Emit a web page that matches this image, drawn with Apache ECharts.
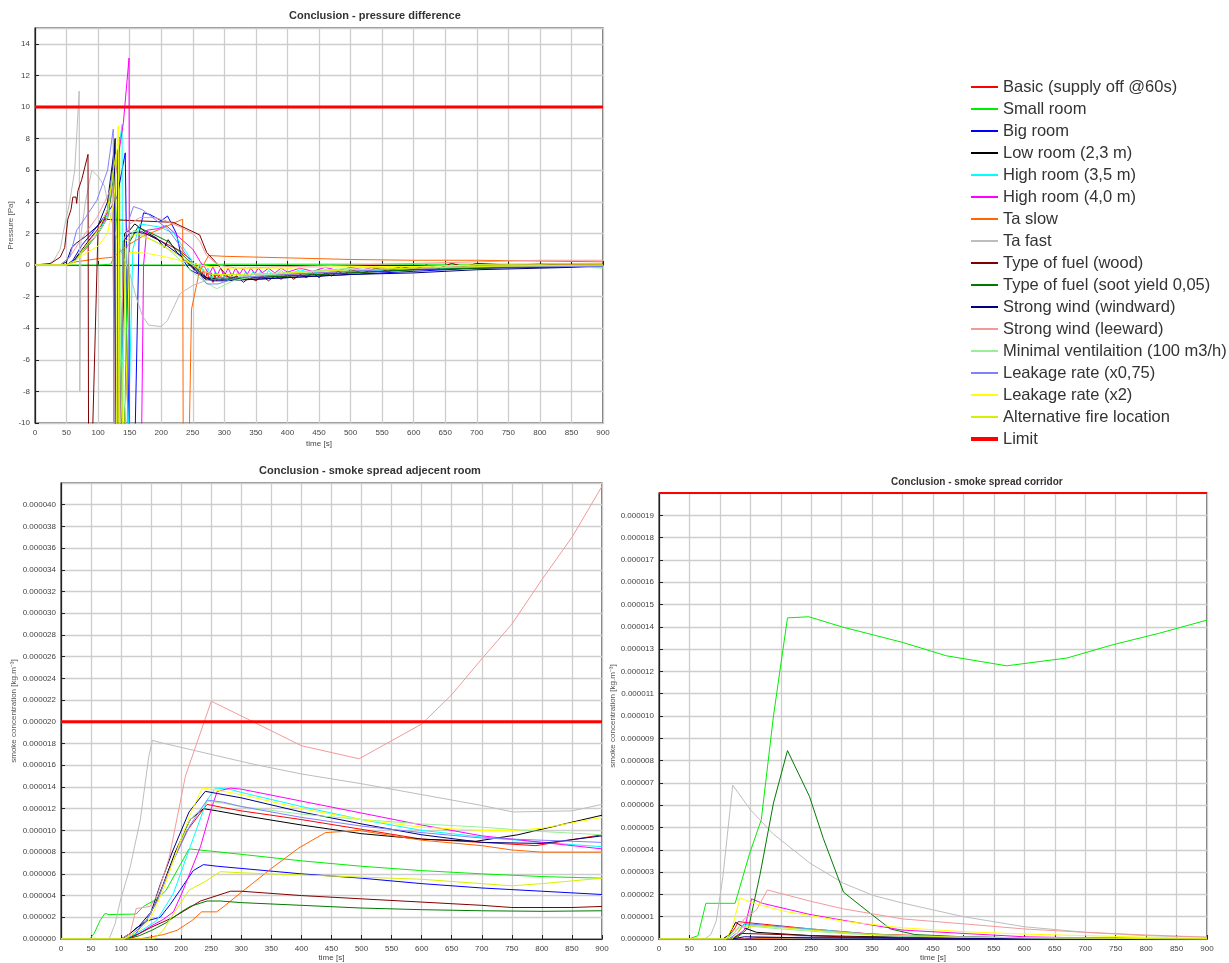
<!DOCTYPE html>
<html>
  <head>
    <meta charset="UTF-8" />
    <title>Conclusion</title>
    <script src="https://cdn.jsdelivr.net/npm/echarts@6/dist/echarts.min.js"></script>
    <style>
      html, body { margin: 0; padding: 0; background: #fff; }
    </style>
  </head>
  <body>
    <div id="chart" style="width: 1229px; height: 963px"></div>
    <script>
      // ---------- pressure difference [Pa], [time s, value] ----------
      var pBasic = [[0,0],[50,0],[60,0.2],[80,1],[100,2],[115,3],[125,5.5],[131,7],[132,-14],[140,-14],[150,1.5],[160,2.1],[180,1.9],[200,1.5],[230,0.9],[248,0.3],[252,-0.3],[255,0.1],[258,-0.5],[261,-0.1],[264,-0.7],[267,-0.3],[270,-0.9],[273,-0.4],[276,-1],[279,-0.5],[282,-1.1],[285,-0.6],[288,-1],[292,-0.6],[296,-1],[300,-0.7],[320,-0.8],[350,-0.75],[400,-0.6],[450,-0.5],[500,-0.4],[550,-0.3],[600,-0.25],[700,-0.1],[800,-0.05],[900,0]];
      var pSmall = [[0,0],[100,0],[120,0.05],[125,0.5],[131,4],[134,8.1],[135,-14],[141,-14],[146,0],[200,0],[250,0],[300,0.05],[400,0.05],[500,0.05],[600,0.05],[700,0.05],[800,0.05],[900,-0.1]];
      var pBig = [[0,0],[50,0],[60,0.3],[75,1.3],[90,2],[105,2.8],[120,3.6],[130,4.3],[143,7.1],[150,-14],[157,-14],[165,2],[172,3.3],[182,3.2],[200,2.8],[210,3.1],[224,2],[232,0.5],[245,-0.3],[270,-0.8],[300,-0.9],[350,-0.9],[400,-0.8],[500,-0.6],[600,-0.4],[700,-0.2],[800,-0.15],[900,-0.1]];
      var pLow = [[0,0],[50,0],[60,0.2],[75,1],[90,1.8],[105,2.5],[115,3.5],[122,5.5],[127,8],[128,-14],[136,-14],[142,2],[150,2.2],[158,2.6],[175,2.1],[193,1.7],[205,1.1],[211,1.6],[225,0.8],[240,0.2],[255,-0.4],[270,-0.9],[300,-0.8],[350,-0.8],[400,-0.7],[500,-0.5],[600,-0.3],[700,-0.2],[800,-0.1],[900,0]];
      var pHigh35 = [[0,0],[50,0],[62,0.2],[80,1.1],[100,2],[115,3.2],[128,6],[138,8.9],[139,-14],[146,-14],[155,1],[166,2.6],[198,2.4],[220,2],[240,0.8],[256,-0.2],[262,0.1],[268,-0.6],[274,-0.2],[280,-0.9],[286,-0.4],[292,-1],[298,-0.5],[304,-1],[310,-0.5],[316,-0.9],[322,-0.4],[328,-0.9],[334,-0.4],[340,-0.8],[346,-0.4],[352,-0.8],[358,-0.35],[364,-0.75],[370,-0.35],[380,-0.7],[390,-0.35],[400,-0.65],[420,-0.3],[440,-0.55],[460,-0.3],[480,-0.5],[500,-0.3],[550,-0.35],[600,-0.25],[700,-0.15],[800,-0.1],[900,-0.1]];
      var pHigh40 = [[0,0],[50,0],[65,0.3],[80,1.2],[95,2],[110,2.8],[125,5],[140,9],[149,13.1],[150,-14],[168,-14],[172,0],[177,2.2],[195,2.3],[208,2.5],[230,1.7],[250,1],[262,0.2],[270,-0.2],[276,-0.6],[282,-0.1],[288,-0.7],[294,-0.2],[300,-0.7],[306,-0.2],[312,-0.7],[318,-0.2],[324,-0.6],[330,-0.2],[336,-0.6],[342,-0.2],[348,-0.55],[354,-0.2],[360,-0.5],[370,-0.2],[380,-0.5],[390,-0.2],[400,-0.45],[420,-0.2],[440,-0.4],[460,-0.15],[480,-0.35],[500,-0.15],[520,-0.3],[540,-0.1],[560,-0.3],[580,-0.1],[600,-0.25],[650,-0.15],[700,-0.1],[800,-0.05],[900,0]];
      var pTaSlow = [[0,0],[50,0],[65,0.2],[100,0.4],[125,0.5],[145,1.2],[170,1.8],[200,2.3],[234,2.9],[235,-14],[243,-14],[248,-2.8],[260,-0.5],[275,0.6],[300,0.55],[400,0.45],[500,0.35],[600,0.3],[700,0.3],[800,0.25],[900,0.2]];
      var pTaFast = [[0,0],[20,0],[30,0.3],[40,1],[47,2.5],[55,4],[63,6],[70,11],[71,-8],[73,2],[80,4],[90,6],[100,5.6],[110,5],[120,3],[135,1],[150,-0.5],[160,-2],[170,-3.2],[180,-3.8],[200,-3.9],[210,-3.5],[230,-1.8],[250,-1.3],[270,-1],[300,-0.8],[350,-0.6],[400,-0.5],[500,-0.3],[600,-0.2],[700,-0.1],[900,0]];
      var pWood = [[0,0],[25,0.1],[40,0.5],[47,1.1],[52,2.9],[57,3.5],[60,4.3],[65,4.3],[66,3.9],[68,4.7],[74,5.4],[84,7],[85,-14],[89,-14],[100,2.5],[108,2.9],[160,2.8],[219,2.7],[261,1.9],[272,0.8],[288,0.1],[300,-0.5],[310,-0.9],[320,-0.7],[330,-1.1],[340,-0.8],[350,-1],[360,-0.7],[370,-1],[380,-0.7],[390,-0.9],[400,-0.6],[410,-0.9],[420,-0.6],[430,-0.8],[440,-0.5],[450,-0.8],[460,-0.5],[470,-0.7],[480,-0.4],[490,-0.6],[500,-0.3],[520,-0.5],[540,-0.2],[560,-0.4],[580,-0.1],[600,-0.3],[620,0],[640,-0.2],[660,0.1],[680,-0.1],[700,0.1],[750,0],[800,0.05],[900,0.05]];
      var pSoot = [[0,0],[50,0],[60,0.2],[80,1.1],[100,2],[115,3],[126,6],[131,7.3],[132,-14],[140,-14],[150,1.5],[163,2.4],[190,1.9],[210,1.5],[212,1.6],[230,0.8],[255,-0.2],[275,-0.9],[300,-0.9],[400,-0.7],[500,-0.5],[600,-0.3],[700,-0.2],[800,-0.1],[900,0]];
      var pWindward = [[0,0],[40,0],[50,0.2],[58,1.1],[66,1.4],[80,1.8],[100,2.5],[115,4],[126,7.5],[127,-14],[134,-14],[140,1.5],[150,2],[170,2.1],[200,1.5],[230,0.6],[260,-0.5],[280,-1],[300,-1],[350,-0.9],[400,-0.8],[500,-0.6],[600,-0.5],[700,-0.3],[800,-0.2],[900,-0.1]];
      var pLeeward = [[0,0],[40,0],[55,0.5],[71,1.5],[85,2.3],[98,3],[113,4.2],[122,5],[128,-14],[134,-14],[140,1.5],[150,2.6],[166,3],[190,3],[208,2.8],[230,2.4],[250,2],[261,1.5],[272,0.6],[290,0],[320,-0.2],[400,-0.1],[500,0],[600,0.1],[700,0.2],[800,0.3],[900,0.3]];
      var pMinVent = [[0,0],[50,0],[65,0.3],[85,1.3],[100,2],[115,3],[124,6],[125,-14],[133,-14],[145,1],[156,2.2],[180,1.7],[208,1.1],[225,0.5],[245,-0.3],[270,-1.1],[288,-1.5],[314,-1],[350,-0.7],[400,-0.5],[500,-0.2],[600,-0.1],[700,0],[800,0],[900,-0.2]];
      var pLeak075 = [[0,0],[40,0],[55,0.5],[66,2.2],[80,3],[98,4.1],[115,6],[124,8.6],[125,-14],[145,-14],[150,3],[156,3.7],[170,3.5],[193,2.8],[210,2.3],[230,1.2],[250,0],[272,-1.2],[290,-1.2],[320,-0.8],[400,-0.6],[500,-0.4],[600,-0.2],[700,-0.1],[800,-0.1],[900,-0.1]];
      var pLeak2 = [[0,0],[50,0],[60,0.1],[70,0.5],[100,1.2],[115,2],[125,4],[132,8.8],[133,-14],[140,-14],[150,0.8],[177,0.75],[208,0.5],[240,0.2],[260,0],[300,-0.2],[400,-0.2],[500,-0.1],[600,-0.1],[700,0],[900,0]];
      var pAltFire = [[0,0],[50,0],[65,0.3],[80,1.2],[100,2.2],[115,3.5],[128,7],[129,-14],[137,-14],[143,1.5],[160,2],[190,1.5],[220,0.8],[250,0],[280,-0.6],[320,-0.6],[400,-0.5],[500,-0.3],[600,-0.2],[700,-0.1],[900,0]];
      var pLimit = [[0,10],[900,10]];

      // ---------- smoke concentration adjacent room [1e-6 kg/m3] ----------
      var aBasic = [[0,0],[105,0],[120,0.5],[140,1.5],[160,3.5],[180,6.5],[210,10],[243,12.4],[270,12.1],[300,11.8],[400,11],[500,10.1],[600,9.2],[700,8.9],[790,8.6],[900,9.6]];
      var aSmall = [[0,0],[48,0],[55,0.5],[65,1.7],[73,2.35],[80,2.25],[125,2.3],[137,3],[160,3.7],[175,4.5],[195,6.5],[213,8.3],[300,7.8],[400,7.2],[500,6.7],[600,6.3],[700,6],[800,5.75],[900,5.6]];
      var aBig = [[0,0],[110,0],[125,0.5],[137,1.5],[145,1.7],[165,2],[182,3.2],[198,4.5],[220,6.3],[237,6.85],[260,6.7],[300,6.5],[400,6],[500,5.6],[600,5.1],[700,4.7],[800,4.4],[900,4.1]];
      var aLow = [[0,0],[100,0],[115,0.5],[125,1],[140,1.5],[155,3],[170,5],[190,8],[215,11],[237,12],[260,11.8],[300,11.4],[400,10.5],[500,9.7],[600,9.2],[690,9],[760,9.6],[830,10.5],[900,11.4]];
      var aHigh35 = [[0,0],[110,0],[125,0.5],[140,1],[159,1.7],[187,4.2],[215,8.5],[243,12.8],[257,13.9],[280,13.8],[300,13.5],[400,12.2],[500,11],[600,10],[700,9.4],[800,8.9],[900,8.5]];
      var aHigh40 = [[0,0],[115,0],[130,0.5],[150,1.2],[170,1.8],[187,2.5],[201,4.2],[232,8.5],[250,12],[260,13.6],[282,13.9],[300,13.8],[400,12.7],[500,11.6],[600,10.5],[700,9.5],[800,8.9],[900,8.3]];
      var aTaSlow = [[0,0],[130,0],[150,0.2],[170,0.4],[193,0.8],[218,1.7],[234,2.5],[259,2.5],[271,3],[300,4.3],[350,6.5],[396,8.4],[440,9.8],[496,10],[600,9.1],[700,8.6],[750,8.2],[800,8],[900,8]];
      var aTaFast = [[0,0],[80,0],[90,1.4],[99,3.6],[115,6.6],[132,11],[146,16.8],[152,18.3],[165,18.1],[250,17],[320,16.1],[400,15.2],[500,14.3],[600,13.3],[700,12.3],[752,11.7],[850,11.8],[900,12.4]];
      var aWood = [[0,0],[110,0],[130,0.5],[151,1.1],[187,2],[232,3.5],[282,4.4],[300,4.4],[400,4],[500,3.7],[600,3.4],[700,3.1],[750,2.9],[850,2.9],[900,3]];
      var aSoot = [[0,0],[110,0],[130,0.3],[151,0.8],[175,1.5],[200,2.5],[215,3],[243,3.5],[265,3.5],[300,3.35],[400,3.1],[500,2.85],[600,2.7],[700,2.6],[800,2.55],[900,2.6]];
      var aWindward = [[0,0],[100,0],[115,0.5],[130,1.2],[150,2.5],[165,5],[185,8],[213,11.7],[240,13.6],[260,13.4],[300,13],[400,11.7],[500,10.6],[600,9.6],[700,8.9],[800,8.8],[900,9.5]];
      var aLeeward = [[0,0],[100,0],[115,0.5],[125,2.8],[148,3],[160,4],[180,7.5],[207,15],[250,21.9],[320,20],[400,17.8],[496,16.6],[600,19.8],[650,22.5],[700,25.8],[750,29],[800,33.1],[850,37],[900,41.7]];
      var aMinVent = [[0,0],[105,0],[120,0.5],[140,1.5],[160,3.5],[185,7],[215,11],[245,12.7],[270,12.5],[300,12.2],[400,11.5],[500,11],[600,10.6],[700,10.3],[800,9.9],[900,9.6]];
      var aLeak075 = [[0,0],[105,0],[120,0.5],[140,1.5],[160,3.5],[185,7],[215,10.5],[243,12.8],[270,12.6],[300,12.2],[400,11.2],[500,10.4],[600,9.8],[700,9.3],[800,9.1],[900,8.9]];
      var aLeak2 = [[0,0],[105,0],[120,0.5],[135,1],[150,2],[170,4.5],[195,8.5],[215,11.5],[235,13.9],[250,13.8],[300,13.3],[400,12],[500,11],[600,10.3],[700,10],[750,10],[800,10.2],[900,11.2]];
      var aAltFire = [[0,0],[155,0],[170,0.8],[187,2.3],[213,4.5],[240,5.3],[265,6.2],[300,6.1],[400,5.9],[500,5.7],[600,5.5],[700,5.1],[750,4.9],[800,5.1],[900,5.6]];
      var aLimit = [[0,20],[900,20]];

      // ---------- smoke concentration corridor [1e-6 kg/m3] ----------
      var cBasic = [[0,0],[110,0],[125,0.5],[130,0.78],[150,0.72],[250,0.45],[350,0.22],[430,0.15],[500,0.08],[600,0.05],[700,0.02],[900,0]];
      var cSmall = [[0,0],[49,0],[64,0.15],[77,1.6],[125,1.6],[149,3.85],[168,5.35],[188,10],[211,14.4],[246,14.45],[300,14],[400,13.3],[472,12.7],[571,12.25],[670,12.6],[746,13.2],[820,13.7],[900,14.3]];
      var cBig = [[0,0],[140,0],[160,0.05],[250,0.08],[400,0.05],[900,0]];
      var cLow = [[0,0],[105,0],[115,0.2],[126,0.75],[140,0.5],[160,0.3],[250,0.15],[400,0.08],[900,0]];
      var cHigh35 = [[0,0],[115,0],[130,0.3],[140,0.65],[160,0.6],[250,0.45],[350,0.2],[450,0.1],[600,0.05],[900,0]];
      var cHigh40 = [[0,0],[120,0],[140,0.4],[152,1.8],[170,1.6],[248,1.1],[300,0.85],[400,0.4],[500,0.25],[600,0.1],[700,0.05],[900,0]];
      var cTaSlow = [[0,0],[150,0],[200,0.05],[300,0.08],[400,0.06],[900,0.02]];
      var cTaFast = [[0,0],[75,0],[85,0.2],[94,0.8],[105,2.8],[121,6.9],[150,5.8],[188,4.7],[248,3.4],[303,2.5],[352,1.95],[402,1.6],[500,1],[600,0.55],[700,0.3],[800,0.15],[900,0.08]];
      var cWood = [[0,0],[120,0],[135,0.25],[200,0.2],[300,0.1],[400,0.05],[900,0]];
      var cSoot = [[0,0],[110,0],[130,0.1],[147,0.5],[166,2.9],[188,6.1],[211,8.45],[247,6.4],[270,4.5],[303,2.1],[340,1.3],[380,0.45],[420,0.2],[500,0.1],[600,0.05],[900,0]];
      var cWindward = [[0,0],[120,0],[140,0.1],[250,0.05],[900,0]];
      var cLeeward = [[0,0],[110,0],[125,0.3],[140,0.9],[160,1.3],[178,2.2],[248,1.7],[303,1.35],[400,0.9],[500,0.68],[600,0.45],[700,0.3],[800,0.18],[900,0.08]];
      var cMinVent = [[0,0],[110,0],[125,0.4],[140,0.6],[200,0.45],[300,0.25],[400,0.12],[600,0.05],[900,0]];
      var cLeak075 = [[0,0],[115,0],[130,0.3],[140,0.7],[200,0.55],[300,0.3],[400,0.15],[600,0.05],[900,0]];
      var cLeak2 = [[0,0],[110,0],[120,0.5],[133,1.85],[150,1.65],[204,1.25],[303,0.8],[400,0.5],[500,0.33],[600,0.22],[700,0.15],[800,0.08],[900,0.03]];
      var cAltFire = [[0,0],[120,0],[135,0.5],[160,0.6],[250,0.4],[350,0.2],[500,0.08],[900,0]];
      var cLimit = [[0,20],[900,20]];

      // scenario name, colour, pressure, adjacent room, corridor
      var scenarios = [
        ["Basic (supply off @60s)", "#ff0000", pBasic, aBasic, cBasic],
        ["Small room", "#00ee00", pSmall, aSmall, cSmall],
        ["Big room", "#0000ff", pBig, aBig, cBig],
        ["Low room (2,3 m)", "#000000", pLow, aLow, cLow],
        ["High room (3,5 m)", "#00ffff", pHigh35, aHigh35, cHigh35],
        ["High room (4,0 m)", "#ff00ff", pHigh40, aHigh40, cHigh40],
        ["Ta slow", "#ff6600", pTaSlow, aTaSlow, cTaSlow],
        ["Ta fast", "#bdbdbd", pTaFast, aTaFast, cTaFast],
        ["Type of fuel (wood)", "#800000", pWood, aWood, cWood],
        ["Type of fuel (soot yield 0,05)", "#007a00", pSoot, aSoot, cSoot],
        ["Strong wind (windward)", "#000080", pWindward, aWindward, cWindward],
        ["Strong wind (leeward)", "#f29a9a", pLeeward, aLeeward, cLeeward],
        ["Minimal ventilaition (100 m3/h)", "#99ee99", pMinVent, aMinVent, cMinVent],
        ["Leakage rate (x0,75)", "#8080ff", pLeak075, aLeak075, cLeak075],
        ["Leakage rate (x2)", "#ffff00", pLeak2, aLeak2, cLeak2],
        ["Alternative fire location", "#d6f000", pAltFire, aAltFire, cAltFire],
      ];

      var font = "Liberation Sans, Arial, sans-serif";
      var grids = [
        { left: 35, right: 626, top: 28, bottom: 540 },
        { left: 61, right: 627, top: 483, bottom: 24 },
        { left: 659, right: 22, top: 493, bottom: 22 },
      ];
      grids.forEach(function (g) {
        g.show = true;
        g.borderColor = "#222";
        g.borderWidth = 1.2;
        g.backgroundColor = "#fff";
      });

      function xAx(i) {
        return {
          type: "value",
          gridIndex: i,
          min: 0,
          max: 900,
          interval: 50,
          name: "time [s]",
          nameLocation: "middle",
          nameGap: i == 0 ? 17 : 15,
          nameTextStyle: { fontSize: 8, color: "#444", fontFamily: font },
          axisLine: { show: true, lineStyle: { color: "#222", width: 1.2 } },
          axisTick: { show: true, inside: true, length: 4, lineStyle: { color: "#222" } },
          axisLabel: { fontSize: 8, color: "#444", margin: 6, fontFamily: font },
          splitLine: { show: true, lineStyle: { color: "#cdcdcd", width: 1.3 } },
        };
      }
      function concLabel(v) {
        return (v / 1e6).toFixed(6);
      }
      function yAx(i, min, max, step, name, gap, fmt) {
        return {
          type: "value",
          gridIndex: i,
          min: min,
          max: max,
          interval: step,
          name: name,
          nameLocation: "middle",
          nameGap: gap,
          nameTextStyle: { fontSize: 8, color: "#555", fontFamily: font },
          axisLine: { show: true, lineStyle: { color: "#222", width: 1.2 } },
          axisTick: { show: true, inside: true, length: 4, lineStyle: { color: "#222" } },
          axisLabel: { fontSize: 8, color: "#444", margin: 5, showMaxLabel: false, formatter: fmt, fontFamily: font },
          splitLine: { show: true, lineStyle: { color: "#cdcdcd", width: 1.3 } },
        };
      }

      var series = [];
      function line(name, color, data, i, width) {
        series.push({
          type: "line",
          name: name,
          xAxisIndex: i,
          yAxisIndex: i,
          data: data,
          symbol: "none",
          showSymbol: false,
          clip: true,
          animation: false,
          color: color,
          lineStyle: { width: width, color: color },
        });
      }
      for (var k = 0; k < scenarios.length; k++) {
        var s = scenarios[k];
        line(s[0], s[1], s[2], 0, 1);
        line(s[0], s[1], s[3], 1, 1);
        line(s[0], s[1], s[4], 2, 1);
      }
      line("Limit", "#ff0000", pLimit, 0, 3);
      line("Limit", "#ff0000", aLimit, 1, 3);
      line("Limit", "#ff0000", cLimit, 2, 2);

      var legendNames = scenarios.map(function (s) { return s[0]; });
      legendNames.push({ name: "Limit", lineStyle: { width: 4 } });

      var option = {
        backgroundColor: "#ffffff",
        animation: false,
        title: [
          { text: "Conclusion - pressure difference", left: 289, top: 10, padding: 0,
            textStyle: { fontSize: 11, fontWeight: "bold", color: "#333", fontFamily: font } },
          { text: "Conclusion - smoke spread adjecent room", left: 259, top: 465, padding: 0,
            textStyle: { fontSize: 11, fontWeight: "bold", color: "#333", fontFamily: font } },
          { text: "Conclusion - smoke spread corridor", left: 891, top: 477, padding: 0,
            textStyle: { fontSize: 10, fontWeight: "bold", color: "#333", fontFamily: font } },
        ],
        legend: {
          data: legendNames,
          orient: "vertical",
          left: 969,
          top: 78,
          padding: 0,
          itemWidth: 27,
          itemHeight: 10,
          itemGap: 4,
          selectedMode: false,
          itemStyle: { opacity: 0 },
          textStyle: { fontSize: 16.5, lineHeight: 18, color: "#333", fontFamily: font },
        },
        grid: grids,
        xAxis: [xAx(0), xAx(1), xAx(2)],
        yAxis: [
          yAx(0, -10, 15, 2, "Pressure [Pa]", 17, null),
          yAx(1, 0, 42, 2, "smoke concentration [kg.m\u207B\u00B3]", 43, concLabel),
          yAx(2, 0, 20, 1, "smoke concentration [kg.m\u207B\u00B3]", 37, concLabel),
        ],
        series: series,
      };

      var myChart = echarts.init(document.getElementById("chart"));
      myChart.setOption(option);
    </script>
  </body>
</html>
